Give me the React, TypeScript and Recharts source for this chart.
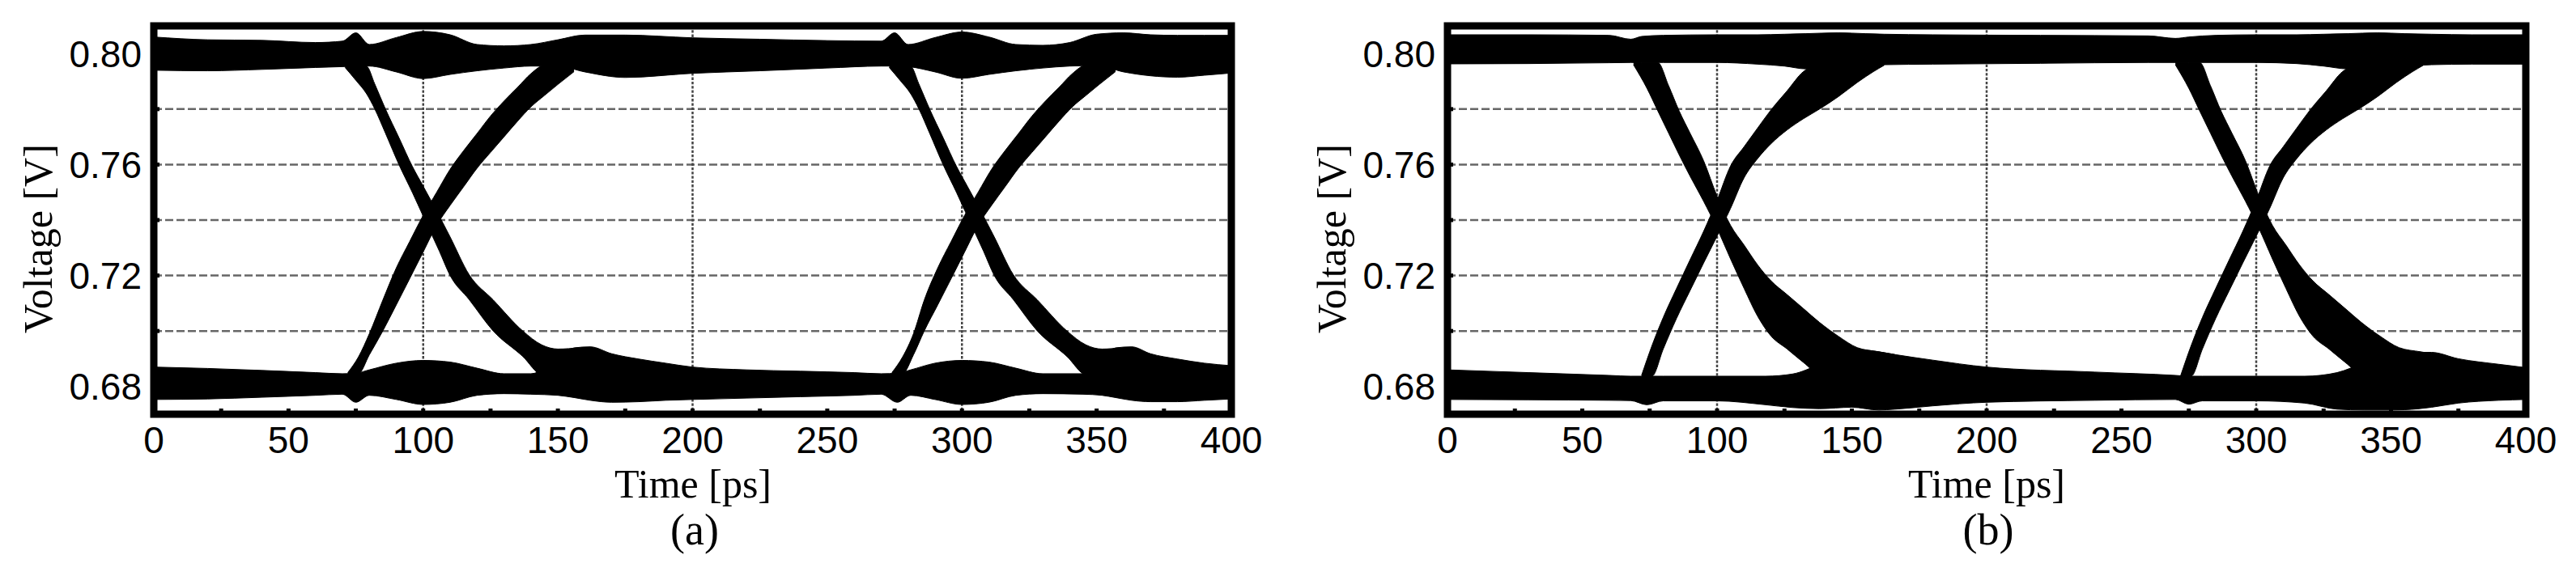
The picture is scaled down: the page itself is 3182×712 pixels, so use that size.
import { AreaChart, Area, XAxis, YAxis, CartesianGrid, ReferenceArea } from 'recharts'

// axes
const X_TICKS = [0, 25, 50, 75, 100, 125, 150, 175, 200, 225, 250, 275, 300, 325, 350, 375, 400]
const X_LABELS = ['0', '50', '100', '150', '200', '250', '300', '350', '400']
const Y_TICKS = [0.68, 0.7, 0.72, 0.74, 0.76, 0.78, 0.8]
const Y_LABELS = ['0.68', '0.72', '0.76', '0.80']
const H_GRID = [0.7, 0.72, 0.74, 0.76, 0.78]
const V_GRID = [100, 200, 300]

// eye diagram envelopes, rows are [time ps, lower V, upper V]
const A_TOP = [
  [0, 0.794, 0.806], [20, 0.7938, 0.805], [40, 0.7943, 0.8048], [60, 0.795, 0.804], [70, 0.7953, 0.8045],
  [75, 0.7955, 0.8075], [80, 0.7955, 0.8033], [90, 0.7934, 0.8058], [100, 0.791, 0.808], [110, 0.7925, 0.8068],
  [120, 0.7938, 0.8033], [130, 0.7948, 0.8028], [140, 0.7955, 0.8033], [150, 0.7955, 0.805], [160, 0.7934, 0.8067],
  [175, 0.7914, 0.8067], [200, 0.7929, 0.8057], [225, 0.7938, 0.8052], [250, 0.7948, 0.8047], [270, 0.7955, 0.8045],
  [275, 0.7955, 0.8075], [280, 0.7953, 0.8033], [290, 0.7934, 0.8058], [300, 0.7911, 0.8078], [310, 0.7925, 0.806],
  [320, 0.7938, 0.8033], [330, 0.7948, 0.803], [340, 0.7955, 0.804], [350, 0.7957, 0.807], [360, 0.7934, 0.8075],
  [370, 0.792, 0.8068], [380, 0.7915, 0.8066], [390, 0.7922, 0.8066], [400, 0.793, 0.8066],
]
const A_BOTTOM = [
  [0, 0.6753, 0.687], [20, 0.6755, 0.6865], [40, 0.6761, 0.6858], [60, 0.6768, 0.685], [70, 0.6772, 0.6846],
  [75, 0.6743, 0.6848], [80, 0.6768, 0.686], [90, 0.6753, 0.6884], [100, 0.6735, 0.6894], [110, 0.6743, 0.6888],
  [120, 0.6768, 0.6866], [130, 0.6774, 0.6846], [140, 0.6772, 0.6846], [150, 0.6768, 0.69], [156, 0.676, 0.6939],
  [162, 0.675, 0.6943], [170, 0.6743, 0.6918], [180, 0.6745, 0.6899], [190, 0.675, 0.6884], [200, 0.6753, 0.687],
  [220, 0.6758, 0.686], [240, 0.6763, 0.6855], [260, 0.6768, 0.685], [270, 0.6772, 0.6846], [276, 0.6743, 0.6848],
  [281, 0.6768, 0.686], [290, 0.6753, 0.6884], [300, 0.6735, 0.6894], [310, 0.6743, 0.6888], [320, 0.6768, 0.6866],
  [330, 0.6774, 0.6846], [345, 0.6772, 0.6846], [352, 0.6768, 0.69], [357, 0.676, 0.6939], [363, 0.675, 0.6943],
  [370, 0.6745, 0.6918], [380, 0.6745, 0.6899], [390, 0.675, 0.6884], [400, 0.6755, 0.6875],
]
const A_RISE_1 = [
  [72, 0.684, 0.685], [76, 0.6845, 0.6907], [80, 0.6914, 0.699], [85, 0.7, 0.7111], [90, 0.7094, 0.7227],
  [95, 0.7189, 0.7323], [100, 0.7285, 0.7417], [105, 0.7381, 0.75], [110, 0.7453, 0.7583], [115, 0.752, 0.765],
  [120, 0.7587, 0.7712], [125, 0.7644, 0.7775], [130, 0.77, 0.7829], [135, 0.7756, 0.7878], [140, 0.7808, 0.7928],
  [145, 0.7849, 0.796], [150, 0.7889, 0.7965], [156, 0.7935, 0.796],
]
const A_FALL_1 = [
  [71, 0.795, 0.7962], [75, 0.7904, 0.7962], [79, 0.7855, 0.7955], [82, 0.7801, 0.7891], [86, 0.7713, 0.78],
  [91, 0.76, 0.7697], [96, 0.7499, 0.7593], [100, 0.7414, 0.7522], [106, 0.7288, 0.7414], [110, 0.72, 0.7339],
  [117, 0.7114, 0.7204], [126, 0.7, 0.7112], [137, 0.6908, 0.7], [144, 0.6841, 0.695], [150, 0.6835, 0.6935],
  [158, 0.684, 0.694],
]
const A_RISE_2 = [
  [274, 0.684, 0.685], [278, 0.6845, 0.6907], [282, 0.6914, 0.699], [286, 0.7, 0.7111], [291, 0.7094, 0.7227],
  [296, 0.7189, 0.7323], [301, 0.7285, 0.7417], [306, 0.7381, 0.75], [311, 0.7453, 0.7583], [316, 0.752, 0.765],
  [321, 0.7587, 0.7712], [326, 0.7644, 0.7775], [331, 0.77, 0.7829], [336, 0.7756, 0.7878], [341, 0.7808, 0.7928],
  [346, 0.7849, 0.796], [351, 0.7889, 0.7965], [357, 0.7935, 0.796],
]
const A_FALL_2 = [
  [273, 0.795, 0.7962], [277, 0.7904, 0.7962], [281, 0.7855, 0.7955], [284, 0.7801, 0.7891], [288, 0.7713, 0.78],
  [293, 0.76, 0.7697], [298, 0.7499, 0.7593], [302, 0.7414, 0.7522], [308, 0.7288, 0.7414], [312, 0.72, 0.7339],
  [319, 0.7114, 0.7204], [328, 0.7, 0.7112], [339, 0.6908, 0.7], [346, 0.6841, 0.695], [352, 0.6835, 0.6935],
  [359, 0.684, 0.694],
]

const B_TOP = [
  [0, 0.7963, 0.8068], [30, 0.7964, 0.8068], [60, 0.7967, 0.8066], [68, 0.7968, 0.8052], [72, 0.7968, 0.8062],
  [80, 0.7968, 0.8066], [100, 0.7968, 0.8068], [115, 0.7962, 0.8068], [125, 0.7955, 0.807], [133, 0.7945, 0.8072],
  [145, 0.795, 0.8075], [155, 0.7955, 0.8072], [162, 0.796, 0.807], [180, 0.7962, 0.8068], [220, 0.7965, 0.8066],
  [260, 0.7968, 0.8064], [270, 0.7968, 0.8055], [275, 0.7968, 0.806], [285, 0.7968, 0.8066], [300, 0.7968, 0.8068],
  [315, 0.7964, 0.8068], [325, 0.7955, 0.807], [334, 0.7945, 0.8072], [345, 0.795, 0.8075], [355, 0.7955, 0.8072],
  [365, 0.796, 0.807], [380, 0.7962, 0.8068], [400, 0.7962, 0.8068],
]
const B_BOTTOM = [
  [0, 0.6753, 0.686], [30, 0.6752, 0.685], [60, 0.675, 0.684], [68, 0.6749, 0.6837], [74, 0.6734, 0.6837],
  [80, 0.6748, 0.6837], [100, 0.6748, 0.6837], [118, 0.6734, 0.6837], [128, 0.6724, 0.6845], [138, 0.672, 0.688],
  [150, 0.6725, 0.6935], [160, 0.6715, 0.6925], [166, 0.6718, 0.6915], [180, 0.673, 0.6895], [200, 0.6743, 0.687],
  [240, 0.675, 0.6852], [270, 0.6753, 0.684], [275, 0.6736, 0.6837], [280, 0.6748, 0.6837], [300, 0.6748, 0.6837],
  [318, 0.674, 0.6837], [330, 0.6718, 0.685], [340, 0.6715, 0.6885], [350, 0.6715, 0.6915], [355, 0.6716, 0.6923],
  [365, 0.6725, 0.6923], [375, 0.674, 0.69], [390, 0.675, 0.688], [400, 0.6753, 0.6868],
]
const B_RISE_1 = [
  [72, 0.683, 0.684], [76, 0.6837, 0.6951], [80, 0.6934, 0.7048], [85, 0.7046, 0.7154], [90, 0.7146, 0.7257],
  [95, 0.7245, 0.7359], [100, 0.7342, 0.7471], [105, 0.7442, 0.7595], [110, 0.7552, 0.7664], [115, 0.7621, 0.7731],
  [120, 0.7675, 0.7797], [126, 0.7725, 0.7866], [132, 0.7765, 0.7935], [138, 0.78, 0.796], [145, 0.7845, 0.7962],
  [152, 0.7896, 0.7962], [158, 0.7935, 0.7962], [162, 0.7958, 0.7962],
]
const B_FALL_1 = [
  [69, 0.796, 0.7968], [74, 0.7875, 0.7968], [78, 0.7794, 0.7968], [82, 0.7714, 0.7885], [86, 0.7634, 0.7792],
  [90, 0.7558, 0.7713], [95, 0.7468, 0.7614], [100, 0.737, 0.7486], [105, 0.726, 0.7381], [110, 0.7154, 0.731],
  [115, 0.7054, 0.7239], [120, 0.6982, 0.7181], [126, 0.6935, 0.7131], [132, 0.6887, 0.7081], [138, 0.6845, 0.7031],
  [145, 0.684, 0.6981], [152, 0.684, 0.694], [160, 0.6845, 0.6925], [166, 0.685, 0.6915],
]
const B_RISE_2 = [
  [272, 0.683, 0.684], [276, 0.6837, 0.6951], [280, 0.6934, 0.7048], [285, 0.7046, 0.7154], [290, 0.7146, 0.7257],
  [295, 0.7245, 0.7359], [300, 0.7342, 0.7471], [305, 0.7442, 0.7595], [310, 0.7552, 0.7664], [315, 0.7621, 0.7731],
  [320, 0.7675, 0.7797], [326, 0.7725, 0.7866], [332, 0.7765, 0.7935], [338, 0.78, 0.796], [345, 0.7845, 0.7962],
  [352, 0.7896, 0.7962], [358, 0.7935, 0.7962], [362, 0.7958, 0.7962],
]
const B_FALL_2 = [
  [270, 0.796, 0.7968], [275, 0.7875, 0.7968], [279, 0.7794, 0.7968], [283, 0.7714, 0.7885], [287, 0.7634, 0.7792],
  [291, 0.7558, 0.7713], [296, 0.7468, 0.7614], [301, 0.737, 0.7486], [306, 0.726, 0.7381], [311, 0.7154, 0.731],
  [316, 0.7054, 0.7239], [321, 0.6982, 0.7181], [327, 0.6935, 0.7131], [333, 0.6887, 0.7081], [339, 0.6845, 0.7031],
  [346, 0.684, 0.6981], [353, 0.684, 0.694], [361, 0.6845, 0.6925], [367, 0.685, 0.6915],
]

const PANEL_A = [A_TOP, A_BOTTOM, A_RISE_1, A_FALL_1, A_RISE_2, A_FALL_2]
const PANEL_B = [B_TOP, B_BOTTOM, B_RISE_1, B_FALL_1, B_RISE_2, B_FALL_2]

const rows = (band: number[][]) => band.map(([t, lo, hi]) => ({ t, v: [lo, hi] }))

const SANS = 'Liberation Sans, Arial, Helvetica, sans-serif'
const SERIF = 'Liberation Serif, Times New Roman, serif'
const tickFont = { fill: '#000', fontSize: 46, fontFamily: SANS }
const tickLine = { stroke: '#000', strokeWidth: 5 }

function EyePanel({ bands, left, marginLeft, marginRight }: { bands: number[][][]; left: number; marginLeft: number; marginRight: number }) {
  return (
    <div style={{ position: 'absolute', left, top: 0 }}>
      <AreaChart width={1591} height={712} margin={{ top: 32, right: marginRight, bottom: 120, left: marginLeft }}>
        <CartesianGrid vertical={false} horizontalValues={H_GRID} stroke="#666" strokeWidth={2.5} strokeDasharray="10 4" />
        <CartesianGrid horizontal={false} verticalValues={V_GRID} stroke="#444" strokeWidth={2.5} strokeDasharray="3.3 2" />
        <XAxis
          dataKey="t"
          type="number"
          domain={[0, 400]}
          ticks={X_TICKS}
          interval={0}
          allowDataOverflow
          height={80}
          axisLine={false}
          tickSize={-7}
          tickMargin={22}
          tickLine={tickLine}
          tick={tickFont}
          tickFormatter={(v) => (X_LABELS.includes(String(v)) ? String(v) : '')}
        />
        <XAxis xAxisId="top" orientation="top" type="number" domain={[0, 400]} ticks={X_TICKS} interval={0} height={0} axisLine={false} tickSize={-7} tickLine={tickLine} tick={false} />
        <YAxis
          type="number"
          domain={[0.67, 0.81]}
          ticks={Y_TICKS}
          interval={0}
          allowDataOverflow
          width={100}
          axisLine={false}
          tickSize={-7}
          tickMargin={22}
          tickLine={tickLine}
          tick={tickFont}
          tickFormatter={(v) => (Y_LABELS.includes(Number(v).toFixed(2)) ? Number(v).toFixed(2) : '')}
        />
        <YAxis yAxisId="right" orientation="right" type="number" domain={[0.67, 0.81]} ticks={Y_TICKS} interval={0} width={0} axisLine={false} tickSize={-7} tickLine={tickLine} tick={false} />
        {bands.map((band, i) => (
          <Area
            key={i}
            data={rows(band)}
            dataKey="v"
            type="monotone"
            fill="#000"
            fillOpacity={1}
            stroke="#000"
            strokeWidth={1}
            dot={false}
            activeDot={false}
            isAnimationActive={false}
          />
        ))}
        <ReferenceArea x1={0} x2={400} y1={0.67} y2={0.81} fill="none" stroke="#000" strokeWidth={9} ifOverflow="visible" />
      </AreaChart>
    </div>
  )
}

export default function App() {
  return (
    <div style={{ position: 'absolute', left: 0, top: 0, width: 3182, height: 712, background: '#fff', overflow: 'hidden' }}>
      <EyePanel bands={PANEL_A} left={0} marginLeft={90} marginRight={70} />
      <EyePanel bands={PANEL_B} left={1591} marginLeft={97} marginRight={62} />
      <svg width={3182} height={712} style={{ position: 'absolute', left: 0, top: 0, pointerEvents: 'none' }}>
        <g fontFamily={SERIF} fill="#000" textAnchor="middle">
          <text transform="translate(64,295) rotate(-90)" fontSize={50}>Voltage [V]</text>
          <text x={856} y={615} fontSize={50}>Time [ps]</text>
          <text x={858} y={673} fontSize={54}>(a)</text>
          <text transform="translate(1662,295) rotate(-90)" fontSize={50}>Voltage [V]</text>
          <text x={2454} y={615} fontSize={50}>Time [ps]</text>
          <text x={2456} y={673} fontSize={54}>(b)</text>
        </g>
      </svg>
    </div>
  )
}
